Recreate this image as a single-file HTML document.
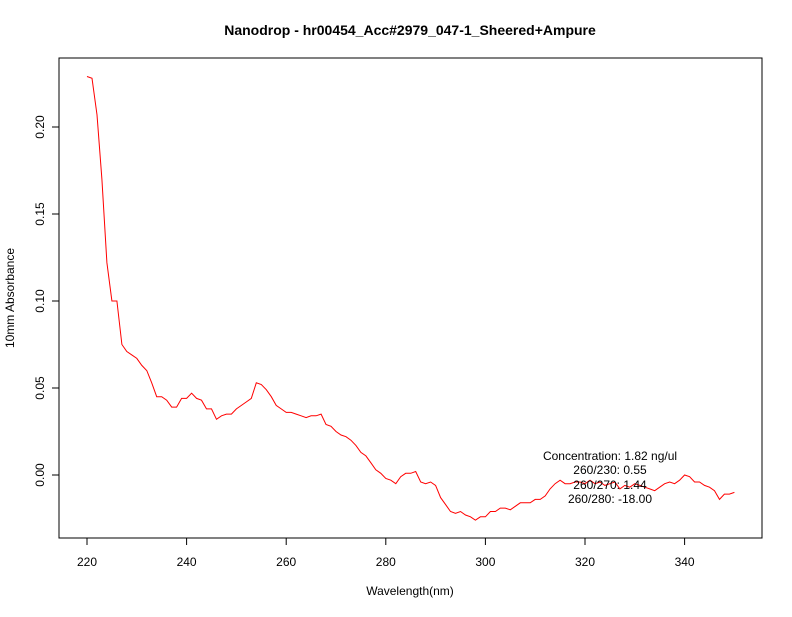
<!DOCTYPE html>
<html><head><meta charset="utf-8"><style>
body{margin:0;background:#fff;font-family:"Liberation Sans",sans-serif;}
svg text{font-family:"Liberation Sans",sans-serif;}
</style></head><body>
<svg id="chart" width="792" height="612" viewBox="0 0 792 612">
<rect x="0" y="0" width="792" height="612" fill="#fff"/>
<text x="410" y="35" text-anchor="middle" font-size="14" font-weight="bold">Nanodrop - hr00454_Acc#2979_047-1_Sheered+Ampure</text>
<rect x="59" y="58" width="703" height="480" fill="none" stroke="#000"/>
<g id="xaxis"></g>
<g id="yaxis"></g>
<text x="410" y="595" text-anchor="middle" font-size="12">Wavelength(nm)</text>
<text x="14" y="298" text-anchor="middle" font-size="12" transform="rotate(-90 14 298)">10mm Absorbance</text>
<g id="series"></g>
<g font-size="12" text-anchor="middle">
<text x="610" y="460">Concentration: 1.82 ng/ul</text>
<text x="610" y="474">260/230: 0.55</text>
<text x="610" y="489">260/270: 1.44</text>
<text x="610" y="503">260/280: -18.00</text>
</g>
</svg>
<script>
const startWavelength = 220;
const absorbance = [0.229,0.228,0.207,0.170,0.122,0.100,0.100,0.075,0.071,0.069,
0.067,0.063,0.060,0.053,0.045,0.045,0.043,0.039,0.039,0.044,
0.044,0.047,0.044,0.043,0.038,0.038,0.032,0.034,0.035,0.035,
0.038,0.040,0.042,0.044,0.053,0.052,0.049,0.045,0.040,0.038,
0.036,0.036,0.035,0.034,0.033,0.034,0.034,0.035,0.029,0.028,
0.025,0.023,0.022,0.020,0.017,0.013,0.011,0.007,0.003,0.001,
-0.002,-0.003,-0.005,-0.001,0.001,0.001,0.002,-0.004,-0.005,-0.004,
-0.006,-0.013,-0.017,-0.021,-0.022,-0.021,-0.023,-0.024,-0.026,-0.024,
-0.024,-0.021,-0.021,-0.019,-0.019,-0.020,-0.018,-0.016,-0.016,-0.016,
-0.014,-0.014,-0.012,-0.008,-0.005,-0.003,-0.005,-0.005,-0.004,-0.004,
-0.005,-0.003,-0.005,-0.004,-0.006,-0.005,-0.004,-0.008,-0.006,-0.007,
-0.005,-0.006,-0.007,-0.008,-0.009,-0.007,-0.005,-0.004,-0.005,-0.003,
0.000,-0.001,-0.004,-0.004,-0.006,-0.007,-0.009,-0.014,-0.011,-0.011,-0.010];
const xTicks = [220,240,260,280,300,320,340];
const yTicks = [0.00,0.05,0.10,0.15,0.20];
const yTickLabels = ["0.00","0.05","0.10","0.15","0.20"];

const NS="http://www.w3.org/2000/svg";
function xScale(w){return 87+(w-220)*4.98;}
function yScale(v){return 475-v*1740;}
function mk(tag,attrs,parent){const e=document.createElementNS(NS,tag);for(const k in attrs)e.setAttribute(k,attrs[k]);parent.appendChild(e);return e;}

const xa=document.getElementById('xaxis');
const x0=xScale(xTicks[0]),x1=xScale(xTicks[xTicks.length-1]);
const xl=mk('line',{x1:x0,x2:x1,y1:538,y2:538,stroke:'#000'},xa);


xTicks.forEach(t=>{
  const tk=mk('line',{x1:xScale(t),x2:xScale(t),y1:538,y2:545,stroke:'#000'},xa);
  
  
  const tx=mk('text',{x:xScale(t),y:566,'text-anchor':'middle','font-size':12},xa);
  tx.textContent=t;
  
  
});
const ya=document.getElementById('yaxis');
const yl=mk('line',{x1:59,x2:59,y1:yScale(yTicks[0]),y2:yScale(yTicks[yTicks.length-1]),stroke:'#000'},ya);


yTicks.forEach((t,i)=>{
  const y=yScale(t);
  const tk=mk('line',{x1:52,x2:59,y1:y,y2:y,stroke:'#000'},ya);
  
  
  const tx=mk('text',{x:44,y:y,'text-anchor':'middle','font-size':12,transform:`rotate(-90 44 ${y})`},ya);
  tx.textContent=yTickLabels[i];
  
  
});
const s=document.getElementById('series');
const pts=absorbance.map((v,i)=>xScale(startWavelength+i).toFixed(1)+','+yScale(v).toFixed(1)).join(' ');
const pl=mk('polyline',{points:pts,fill:'none',stroke:'#ff0000','stroke-width':1},s);


</script>
</body></html>
